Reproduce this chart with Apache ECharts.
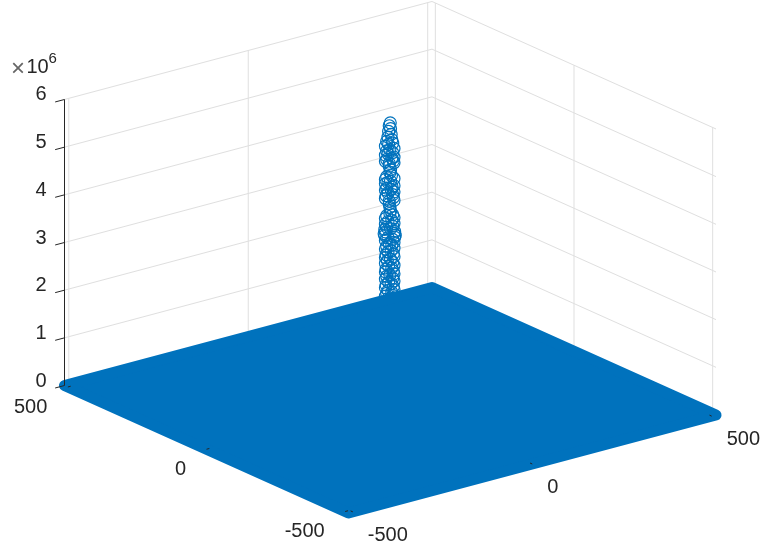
<!DOCTYPE html>
<html><head><meta charset="utf-8">
<style>html,body{margin:0;padding:0;background:#fff}#c{width:772px;height:550px}</style>
<script src="https://cdn.jsdelivr.net/npm/echarts@6/dist/echarts.min.js"></script></head>
<body><div id="c"></div>
<script>
const ticksAB=[-500,0,500];
const ticksZ=[0,1,2,3,4,5,6];
const limAB=[-512,512];
const zMax=6;
// column of points at the middle of the plane (z in units of 1e6)
const stemZ=[5.82,5.76,5.70,5.64,5.58,5.52,5.47,5.43,5.40,5.37,
5.33,5.29,5.26,5.23,5.20,5.17,5.14,5.11,5.08,5.05,
5.03,5.01,4.99,4.97,4.72,4.69,4.66,4.63,4.60,4.57,
4.54,4.51,4.48,4.45,4.43,4.41,4.38,4.35,4.32,4.29,
4.26,4.23,4.20,4.18,3.92,3.90,3.87,3.84,3.81,3.78,
3.75,3.72,3.69,3.66,3.63,3.60,3.58,3.55,3.53,3.51,
3.49,3.47,3.45,3.43,3.41,3.38,3.35,3.32,3.29,3.26,
3.23,3.20,3.17,3.14,3.11,3.08,3.05,3.02,2.99,2.96,
2.93,2.90,2.87,2.84,2.81,2.78,2.75,2.72,2.69,2.66,
2.63,2.60,2.57,2.54,2.51,2.48,2.45,2.42,2.39,2.36,
2.33,2.30,2.27,2.24,2.21,2.18,2.15,2.12,2.10,2.08,
4.91,4.84,4.78,4.12,4.05,3.98];
const stemA=[0,1,-1,2,-2,3,-3,5,-5,2,
7,-7,0,5,-5,3,7,-7,-3,5,
-6,7,-7,1,-3,5,-7,7,-1,3,
7,-7,-4,5,-2,7,-7,3,-5,6,
-6,7,-7,1,0,-5,5,-7,7,-3,
3,-7,7,-5,5,-1,8,-8,7,-7,
9,-9,8,-8,3,-5,7,-7,1,-3,
5,-7,7,-2,3,-6,6,-7,7,-1,
4,-5,7,-7,2,-3,6,-6,7,-7,
0,5,-5,7,-7,2,-2,6,-6,7,
-7,3,-3,5,-5,7,-7,1,-1,4,
1,-1,0,1,0,-1];
const stemB=[0,-2,0,-3,1,-4,2,-6,3,-3,
-8,5,-1,-6,3,-4,-8,5,2,-6,
4,-8,5,-2,1,-6,5,-8,0,-4,
-8,5,2,-6,1,-8,5,-4,3,-7,
4,-8,5,-2,-1,3,-6,5,-8,2,
-4,5,-8,3,-6,0,-9,6,-8,5,
-10,7,-9,6,-4,3,-8,5,-2,2,
-6,5,-8,1,-4,4,-7,5,-8,0,
-5,3,-8,5,-3,2,-7,4,-8,5,
-1,-6,3,-8,5,-3,1,-7,4,-8,
5,-4,2,-6,3,-8,5,-2,0,-5,
-2,0,-1,-2,-1,0];

const L=[64.5,385.5], R=[716,415], B=[348.5,513], zPx=47.67;
const C=[(L[0]+R[0])/2,(L[1]+R[1])/2];
function proj(a,b,z){return [
  C[0]+a*(L[0]-B[0])/1024+b*(R[0]-B[0])/1024,
  C[1]+a*(L[1]-B[1])/1024+b*(R[1]-B[1])/1024-z*zPx];}
const seg=(p,q)=>[p[0],p[1],q[0],q[1]];
const grid=[],overlay=[];
const lo=limAB[0],hi=limAB[1];
ticksZ.forEach(z=>{
  grid.push(seg(proj(hi,lo,z),proj(hi,hi,z)));
  grid.push(seg(proj(hi,hi,z),proj(lo,hi,z)));
  if(z>0){overlay.push(seg(proj(hi,lo,z),proj(hi,lo-26,z)));}
});
ticksAB.forEach(t=>{
  grid.push(seg(proj(hi,t,0),proj(hi,t,zMax)));
  grid.push(seg(proj(t,hi,0),proj(t,hi,zMax)));
  overlay.push(seg(proj(t,lo,0),proj(t,lo+8,0)));
  overlay.push(seg(proj(lo,t,0),proj(lo+8,t,0)));
});
overlay.push(seg(proj(hi,lo,0),proj(hi,lo-26,0)));
overlay.push(seg(proj(hi,lo,0),proj(hi,lo,zMax)));
const floor=[[hi,lo],[lo,lo],[lo,hi],[hi,hi]].map(c=>proj(c[0],c[1],0));
const stem=stemZ.map((z,i)=>proj(stemA[i],stemB[i],z));

const FONT='"Liberation Sans",Arial,sans-serif', TXT='#262626', BLUE='#0072BD';
const segItem=color=>(p,api)=>{
  const s=api.coord([api.value(0),api.value(1)]),e=api.coord([api.value(2),api.value(3)]);
  return {type:'line',shape:{x1:s[0],y1:s[1],x2:e[0],y2:e[1]},style:{stroke:color,lineWidth:1,fill:null}};
};
const labelSeries=(data,align,ox,oy)=>({type:'scatter',data:data,symbolSize:0,silent:true,z:9,
  itemStyle:{opacity:1},
  label:{show:true,position:'inside',align:align,verticalAlign:'middle',offset:[ox,oy],opacity:1,
    formatter:p=>p.data[2],fontFamily:FONT,fontSize:20,color:TXT}});

const chart=echarts.init(document.getElementById('c'),null,{renderer:'canvas'});
chart.setOption({
  animation:false,backgroundColor:'#fff',
  grid:{left:0,top:0,right:0,bottom:0},
  xAxis:{type:'value',min:0,max:772,show:false},
  yAxis:{type:'value',min:0,max:550,inverse:true,show:false},
  graphic:[
    {type:'text',left:11,top:57,style:{text:'×',font:'24px '+FONT,fill:'#666'}},
    {type:'text',left:26.5,top:57,style:{text:'10',font:'20px '+FONT,fill:TXT}},
    {type:'text',left:48.5,top:51,style:{text:'6',font:'15px '+FONT,fill:TXT}}
  ],
  series:[
    {type:'custom',z:1,silent:true,renderItem:segItem('#dfdfdf'),data:grid,clip:false},
    {type:'scatter',z:2,silent:true,symbol:'circle',symbolSize:12,data:stem,
      itemStyle:{color:'rgba(0,0,0,0)',borderColor:BLUE,borderWidth:1.2,opacity:1}},
    {type:'custom',z:3,silent:true,clip:false,data:[floor.flat()],
      renderItem:(p,api)=>({type:'polygon',
        shape:{points:[0,2,4,6].map(i=>api.coord([api.value(i),api.value(i+1)]))},
        style:{fill:BLUE,stroke:BLUE,lineWidth:11,lineJoin:'round'}})},
    {type:'custom',z:4,silent:true,renderItem:segItem(TXT),data:overlay,clip:false},
    labelSeries(ticksZ.map(z=>{const q=proj(hi,lo,z);return [46.5,q[1],String(z)];}),'right',0,-4.5),
    labelSeries(ticksAB.map(t=>{const q=proj(t,lo,0);return [q[0],q[1],String(t)];}),'right',-20.5,20),
    labelSeries(ticksAB.map(t=>{const q=proj(lo,t,0);return [q[0],q[1],String(t)];}),'left',15,23.5)
  ]
});
</script></body></html>
